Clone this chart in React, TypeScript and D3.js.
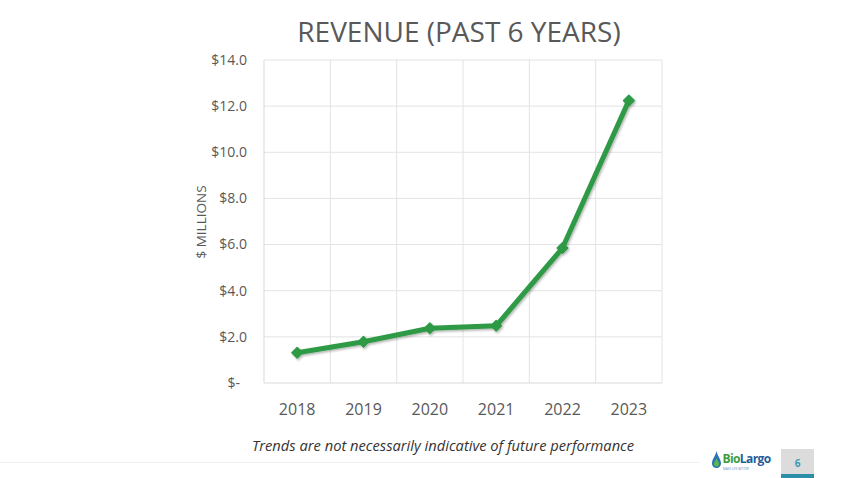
import * as d3 from "d3";
import React, { useEffect, useRef } from "react";

// revenue in $ millions, fiscal years
const years = ["2018", "2019", "2020", "2021", "2022", "2023"];
const revenue = [1.31, 1.79, 2.37, 2.48, 5.85, 12.24];
const yTicks = [0, 2, 4, 6, 8, 10, 12, 14];

const W = 850;
const H = 478;
const margin = { top: 60, right: 188, bottom: 95, left: 264 };

const App = () => {
    const chartRef = useRef<SVGSVGElement | null>(null);

    useEffect(() => {
        if (!chartRef.current) return;
        const root = d3.select(chartRef.current);
        root.selectAll("*").remove();

        const innerW = W - margin.left - margin.right;
        const innerH = H - margin.top - margin.bottom;

        const x = d3.scaleBand().domain(years).range([0, innerW]);
        const y = d3.scaleLinear().domain([0, 14]).range([innerH, 0]);

        const defs = root.append("defs");
        const shadow = defs.append("filter").attr("id", "lineShadow")
            .attr("x", "-10%").attr("y", "-10%").attr("width", "120%").attr("height", "120%");
        shadow.append("feDropShadow")
            .attr("dx", 1.2).attr("dy", 1.5).attr("stdDeviation", 1.2)
            .attr("flood-color", "#000").attr("flood-opacity", 0.3);

        // title
        root.append("text")
            .attr("x", 459).attr("y", 42)
            .attr("text-anchor", "middle")
            .style("font-family", "'Open Sans', sans-serif")
            .style("font-size", "28px")
            .style("fill", "#595959")
            .text("REVENUE (PAST 6 YEARS)");

        const g = root.append("g").attr("transform", `translate(${margin.left},${margin.top})`);

        // horizontal gridlines
        g.selectAll(".hgrid").data(yTicks.filter(t => t > 0)).enter()
            .append("line")
            .attr("x1", 0).attr("x2", innerW)
            .attr("y1", d => y(d)).attr("y2", d => y(d))
            .style("stroke", "#e3e3e3").style("stroke-width", 1);

        // vertical gridlines at category boundaries
        g.selectAll(".vgrid").data(years.slice(1)).enter()
            .append("line")
            .attr("x1", d => x(d)!).attr("x2", d => x(d)!)
            .attr("y1", 0).attr("y2", innerH)
            .style("stroke", "#e3e3e3").style("stroke-width", 1);
        g.append("line")
            .attr("x1", innerW).attr("x2", innerW).attr("y1", 0).attr("y2", innerH)
            .style("stroke", "#e3e3e3");

        // axis lines
        g.append("line").attr("x1", 0).attr("x2", 0).attr("y1", 0).attr("y2", innerH)
            .style("stroke", "#d9d9d9");
        g.append("line").attr("x1", 0).attr("x2", innerW).attr("y1", innerH).attr("y2", innerH)
            .style("stroke", "#d9d9d9").style("stroke-width", 1.2);

        // y tick labels
        g.selectAll(".ylab").data(yTicks).enter()
            .append("text")
            .attr("x", d => (d === 0 ? -24 : -17))
            .attr("y", d => y(d))
            .attr("dy", "0.35em")
            .attr("text-anchor", "end")
            .style("font-family", "'Open Sans', sans-serif")
            .style("font-size", "14px")
            .style("fill", "#595959")
            .text(d => (d === 0 ? "$-" : `$${d.toFixed(1)}`));

        // x tick labels
        g.selectAll(".xlab").data(years).enter()
            .append("text")
            .attr("x", d => x(d)! + x.bandwidth() / 2)
            .attr("y", innerH + 32)
            .attr("text-anchor", "middle")
            .style("font-family", "'Open Sans', sans-serif")
            .style("font-size", "16px")
            .style("fill", "#595959")
            .text(d => d);

        // y axis title
        root.append("text")
            .attr("transform", `translate(206,222) rotate(-90)`)
            .attr("text-anchor", "middle")
            .style("font-family", "'Open Sans', sans-serif")
            .style("font-size", "13.5px")
            .style("fill", "#595959")
            .text("$ MILLIONS");

        const pts = years.map((yr, i) => ({ yr, v: revenue[i] }));
        const line = d3.line<{ yr: string; v: number }>()
            .x(d => x(d.yr)! + x.bandwidth() / 2)
            .y(d => y(d.v));

        const series = g.append("g").attr("filter", "url(#lineShadow)");
        series.append("path")
            .datum(pts)
            .attr("d", line)
            .style("fill", "none")
            .style("stroke", "#2f9a45")
            .style("stroke-width", 5)
            .style("stroke-linejoin", "round");

        series.selectAll(".marker").data(pts).enter()
            .append("path")
            .attr("d", d3.symbol().type(d3.symbolSquare).size(55))
            .attr("transform", d => `translate(${x(d.yr)! + x.bandwidth() / 2},${y(d.v)}) rotate(45)`)
            .style("fill", "#2f9a45")
            .style("stroke", "#2f9a45")
            .style("stroke-width", 1.5)
            .style("stroke-linejoin", "round");

        // footnote
        root.append("text")
            .attr("x", 443).attr("y", 451)
            .attr("text-anchor", "middle")
            .style("font-family", "'Open Sans', sans-serif")
            .style("font-style", "italic")
            .style("font-size", "14.7px")
            .style("fill", "#333")
            .text("Trends are not necessarily indicative of future performance");

        // faint footer rule
        root.append("line")
            .attr("x1", 0).attr("x2", 700).attr("y1", 462.5).attr("y2", 462.5)
            .style("stroke", "#f0f0f0");

        // logo
        const logo = root.append("g").attr("transform", "translate(712,451)");
        logo.append("path")
            .attr("d", "M4.5,0 C5.5,5 9,8 9,12.5 A4.5,4.5 0 0 1 0,12.5 C0,8 3.5,5 4.5,0 Z")
            .style("fill", "#2a74b8");
        logo.append("path")
            .attr("d", "M4.5,7.5 C5.5,9.5 7,11 7,13 A2.5,2.5 0 0 1 2,13 C2,11 3.5,9.5 4.5,7.5 Z")
            .style("fill", "#5cb848");
        const word = logo.append("text")
            .attr("x", 10.5).attr("y", 12)
            .style("font-family", "'Open Sans', sans-serif")
            .style("font-weight", "bold")
            .style("font-size", "12px")
            .style("letter-spacing", "-0.6px");
        word.append("tspan").style("fill", "#3c9c3e").text("Bio");
        word.append("tspan").style("fill", "#1f5c98").text("Largo");
        logo.append("text")
            .attr("x", 11).attr("y", 18.5)
            .style("font-family", "'Open Sans', sans-serif")
            .style("font-size", "3px")
            .style("fill", "#5a8fbf")
            .text("MAKE LIFE BETTER");

        // page number box
        root.append("rect").attr("x", 781).attr("y", 449).attr("width", 33).attr("height", 29)
            .style("fill", "#dcdcdc");
        root.append("rect").attr("x", 781).attr("y", 474).attr("width", 33).attr("height", 4)
            .style("fill", "#2c8fa8");
        root.append("text")
            .attr("x", 797.5).attr("y", 467)
            .attr("text-anchor", "middle")
            .style("font-family", "'Open Sans', sans-serif")
            .style("font-weight", "bold")
            .style("font-size", "10px")
            .style("fill", "#3a9ab8")
            .text("6");
    }, []);

    return (
        <svg
            ref={chartRef}
            width={W}
            height={H}
            style={{ position: "absolute", left: 0, top: 0, background: "#fff" }}
        ></svg>
    );
};

export default App;
